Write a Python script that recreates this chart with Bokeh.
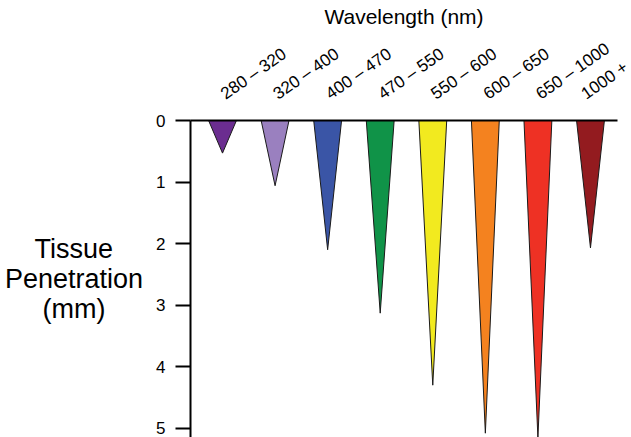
import math
from bokeh.plotting import figure
from bokeh.models import Range1d, LinearAxis, FixedTicker, ColumnDataSource
from bokeh.embed import file_html
from bokeh.resources import INLINE

# Data
wavelengths = ["280 \u2013 320", "320 \u2013 400", "400 \u2013 470", "470 \u2013 550",
               "550 \u2013 600", "600 \u2013 650", "650 \u2013 1000", "1000 +"]
penetration_mm = [0.53, 1.06, 2.1, 3.13, 4.3, 5.08, 5.15, 2.07]
colors = ["#6b2d90", "#9a80bf", "#3a55a6", "#109348", "#f2ea1f", "#f4821f", "#ee3124", "#931b1f"]
y_ticks = [0, 1, 2, 3, 4, 5]
y_title_lines = ["Tissue", "Penetration", "(mm)"]

FONT = "Liberation Sans"
half_w = 0.265
NB = "\u00a0"

positions = list(range(len(wavelengths)))
xs = [[x - half_w, x + half_w, x] for x in positions]
ys = [[0, 0, d] for d in penetration_mm]
src = ColumnDataSource(dict(xs=xs, ys=ys, color=colors))

p = figure(width=631, height=437, output_backend="svg", toolbar_location=None,
           x_range=Range1d(-0.609, 7.514), y_range=Range1d(5.15, 0),
           x_axis_location=None, y_axis_location=None,
           min_border_left=190, min_border_right=14, min_border_top=120, min_border_bottom=0)
p.outline_line_color = None
p.xgrid.visible = False
p.ygrid.visible = False
p.background_fill_color = "white"

p.patches("xs", "ys", source=src, fill_color="color", line_color="#1a1a1a", line_width=1)

# Left axis
yax = LinearAxis(ticker=FixedTicker(ticks=y_ticks))
yax.axis_line_width = 2
yax.axis_line_color = "black"
yax.major_tick_line_width = 2
yax.major_tick_line_color = "black"
yax.major_tick_out = 15
yax.major_tick_in = 0
yax.minor_tick_out = 0
yax.minor_tick_in = 0
yax.major_label_standoff = 10
yax.major_label_text_font = FONT
yax.major_label_text_font_size = "17px"
yax.major_label_text_color = "black"
# pad shorter lines so the right-aligned block reads as centred
pads = [4, 0, 5]
yax.axis_label = "\n".join(t + NB * n for t, n in zip(y_title_lines, pads))
yax.axis_label_text_font = FONT
yax.axis_label_text_font_size = "27px"
yax.axis_label_text_font_style = "normal"
yax.axis_label_text_color = "black"
yax.axis_label_text_line_height = 1.0
yax.axis_label_standoff = 10
try:
    yax.axis_label_orientation = "horizontal"
except Exception:
    pass
p.add_layout(yax, "left")

# Top axis with wavelength labels
xax = LinearAxis(ticker=FixedTicker(ticks=positions),
                 major_label_overrides={i: w for i, w in zip(positions, wavelengths)})
xax.axis_line_width = 2
xax.axis_line_color = "black"
xax.major_tick_out = 0
xax.major_tick_in = 0
xax.minor_tick_out = 0
xax.minor_tick_in = 0
xax.major_label_orientation = math.radians(35)
xax.major_label_standoff = 25
xax.major_label_text_font = FONT
xax.major_label_text_font_size = "17px"
xax.major_label_text_color = "black"
xax.axis_label = "Wavelength (nm)"
xax.axis_label_text_font = FONT
xax.axis_label_text_font_size = "21px"
xax.axis_label_text_font_style = "normal"
xax.axis_label_text_color = "black"
xax.axis_label_standoff = 0
p.add_layout(xax, "above")

open("out.html", "w").write(file_html(p, INLINE))
